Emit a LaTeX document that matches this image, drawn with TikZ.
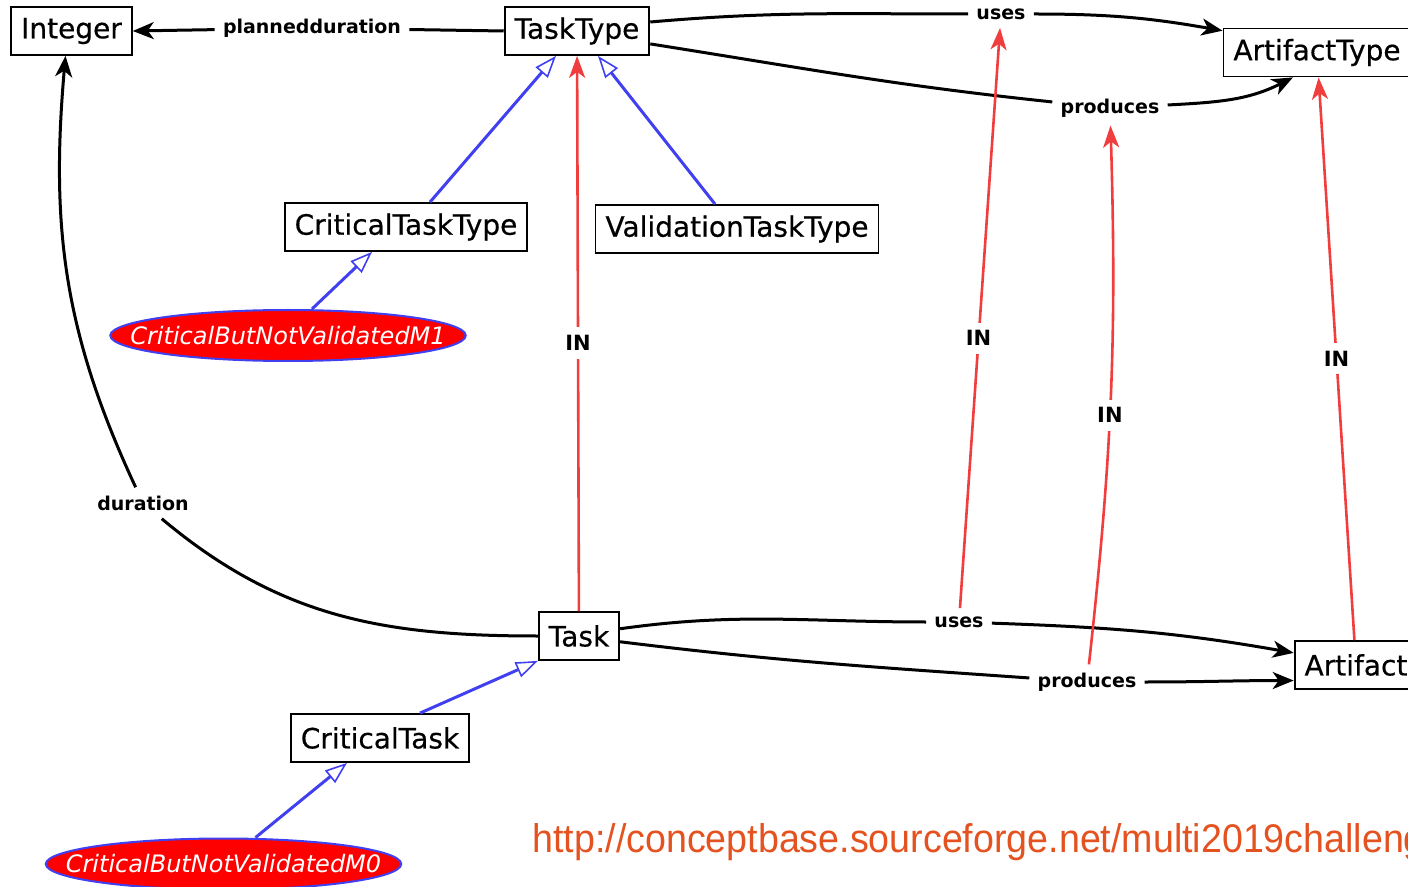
\documentclass[tikz,border=0pt]{standalone}
\usepackage{fontspec}
\setmainfont{DejaVu Sans}
\newfontfamily\conceptfont[FakeBold=0.5]{DejaVu Sans}
\newfontfamily\urlfont[FakeStretch=0.94]{Liberation Sans}
\usetikzlibrary{arrows.meta,shapes.geometric}
\definecolor{linkred}{RGB}{240,62,62}
\definecolor{isablue}{RGB}{64,64,240}
\definecolor{instred}{RGB}{255,0,0}
\definecolor{urlorange}{RGB}{228,82,32}
\tikzset{
  concept/.style={
    draw=black,
    line width=0.9pt,
    fill=white,
    minimum height=24pt,
    inner xsep=5pt,
    font=\conceptfont\fontsize{14}{16}\selectfont
  },
  indiv/.style={
    ellipse,
    draw=isablue,
    line width=1pt,
    fill=instred,
    text=white,
    inner xsep=-16pt,
    inner ysep=0pt,
    minimum height=25.5pt,
    font=\itshape\fontsize{12}{14}\selectfont
  },
  attr/.style={
    inner sep=4pt,
    font=\bfseries\fontsize{9.5}{11}\selectfont
  },
  inlbl/.style={
    fill=white,
    text=black,
    inner sep=4pt,
    font=\bfseries\fontsize{10.5}{12}\selectfont
  },
  rel/.style={
    -{Stealth[length=10.5pt,width=8.5pt,inset=3pt]},
    line width=1.5pt,
    black
  },
  inlink/.style={
    -{Stealth[length=11pt,width=8pt,inset=3pt]},
    line width=1.3pt,
    linkred
  },
  isa/.style={
    -{Triangle[open,length=11pt,width=8pt,line width=0.8pt]},
    line width=1.5pt,
    isablue
  },
  weblink/.style={
    text=urlorange,
    inner sep=0pt,
    font=\urlfont\fontsize{20}{24}\selectfont
  }
}

\begin{document}
\begin{tikzpicture}[x=0.5pt,y=0.5pt]
\useasboundingbox (0,0) rectangle (1408,-887);
\clip (0,0) rectangle (1408,-887);

\node[concept] (integer) at (71.5,-31) {Integer};
\node[concept] (tasktype) at (577,-31) {TaskType};
\node[concept] (artifacttype) at (1317,-52.5) {ArtifactType};
\node[concept] (ctt) at (406,-227) {CriticalTaskType};
\node[concept] (vtt) at (737,-229) {ValidationTaskType};
\node[concept] (task) at (579,-636) {Task};
\node[concept] (artifact) at (1356,-665) {Artifact};
\node[concept] (ct) at (380,-738) {CriticalTask};
\node[indiv] (m1) at (288,-335.5) {CriticalButNotValidatedM1};
\node[indiv] (m0) at (223.5,-864) {CriticalButNotValidatedM0};

\node[attr] (pd) at (312,-28) {plannedduration};
\node[attr] (uTT) at (1001,-14) {uses};
\node[attr] (pTT) at (1110,-108) {produces};
\node[attr] (uT) at (959,-622) {uses};
\node[attr] (pT) at (1087,-682) {produces};
\node[attr] (dur) at (143,-503) {duration};

\node[weblink, anchor=base west] (link) at (532,-852) {http://conceptbase.sourceforge.net/multi2019challenge};

\draw[rel] (tasktype.west) -- (pd) -- (integer.east);
\draw[rel] (tasktype.7) to[out=5,in=180] (uTT) to[out=0,in=170] (artifacttype.167);
\draw[rel] (tasktype.-10) to[out=-9,in=174] (pTT) to[out=3,in=207] (artifacttype.-134);
\draw[rel] (task) to[out=180,in=-40] (dur) to[out=115,in=-95] ([xshift=-3pt]integer.south);
\draw[rel] (task.10) to[out=8,in=180] (uT) to[out=-2,in=170] (artifact.169);
\draw[rel] (task.-8) to[out=-7,in=176] (pT) to[out=0,in=180] (artifact.-166);

\draw[inlink] (task) -- node[inlbl,pos=0.483] {IN} (tasktype);
\draw[inlink] (uT) -- node[inlbl,pos=0.465] {IN} (uTT);
\draw[inlink] (pT) to[bend right=4] node[inlbl,pos=0.46] {IN} (pTT);
\draw[inlink] (artifact) -- node[inlbl] {IN} (artifacttype);

\draw[isa] ([xshift=12pt]ctt.north) -- ([xshift=-10.5pt]tasktype.south);
\draw[isa] ([xshift=-11pt]vtt.north) -- ([xshift=10.5pt]tasktype.south);
\draw[isa] ([xshift=12pt]m1.north) -- ([xshift=-17pt]ctt.south);
\draw[isa] ([xshift=20pt]ct.north) -- (task.south west);
\draw[isa] ([xshift=16pt]m0.north) -- ([xshift=-16.5pt]ct.south);
\end{tikzpicture}
\end{document}
